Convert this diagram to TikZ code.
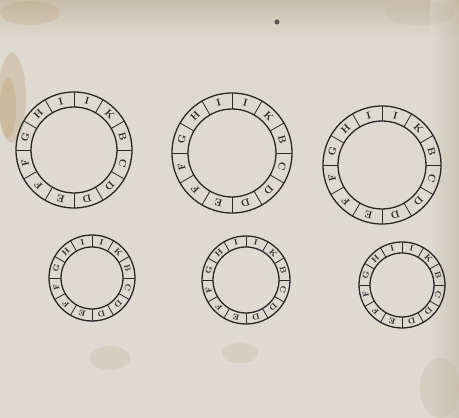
\documentclass[tikz,border=0pt]{standalone}
\usetikzlibrary{calc}
\definecolor{paper}{RGB}{222,218,209}
\definecolor{ink}{RGB}{40,40,40}
\definecolor{stain}{RGB}{185,150,105}
\definecolor{grime}{RGB}{195,183,160}
\tikzset{
  ringline/.style={draw=ink, line width=1.3pt},
  divline/.style={draw=ink, line width=0.8pt},
  letter/.style={inner sep=0pt, text=ink},
}
% #1 name, #2 cx, #3 cy, #4 outer R, #5 inner r, #6 font size
\newcommand\cipherring[6]{%
  \draw[ringline] (#2,#3) circle[radius=#4];
  \draw[ringline] (#2,#3) circle[radius=#5];
  \foreach \L [count=\i] in {G,H,I,I,K,B,C,D,D,E,F,F}{
    \pgfmathsetmacro\a{165-30*(\i-1)}
    \pgfmathsetmacro\b{\a-15}
    \pgfmathsetmacro\m{(#4+#5)/2}
    \draw[divline] ($(#2,#3)+(\b:#5)$) -- ($(#2,#3)+(\b:#4)$);
    \node[letter, font=\fontsize{#6}{#6}\selectfont\rmfamily\bfseries, rotate=\a-90] (#1-\i) at ($(#2,#3)+(\a:\m)$) {\L};
  }
}
\begin{document}
\begin{tikzpicture}[x=1pt,y=1pt]
\useasboundingbox (0,0) rectangle (459,418);
\fill[paper] (0,0) rectangle (459,418);
% aged edges and stains
\shade[top color=grime, bottom color=paper, opacity=0.8] (0,380) rectangle (459,418);
\shade[left color=paper, right color=grime, opacity=0.6] (430,0) rectangle (459,418);
\fill[stain, opacity=0.3] (12,320) ellipse[x radius=14, y radius=45];
\fill[stain, opacity=0.25] (8,310) ellipse[x radius=8, y radius=30];
\fill[stain, opacity=0.2] (30,405) ellipse[x radius=30, y radius=12];
\fill[grime, opacity=0.3] (420,405) ellipse[x radius=35, y radius=12];
\fill[grime, opacity=0.3] (110,60) ellipse[x radius=20, y radius=12];
\fill[grime, opacity=0.3] (240,65) ellipse[x radius=18, y radius=10];
\fill[grime, opacity=0.3] (440,30) ellipse[x radius=20, y radius=30];
\fill[ink, opacity=0.7] (277,396) circle[radius=2.5];
% rings (y = 418 - image y)
\cipherring{r1}{74}{268}{58}{43}{10}
\cipherring{r2}{232}{265}{60}{44}{10}
\cipherring{r3}{382}{253}{59}{44}{10}
\cipherring{r4}{92}{140}{43}{31}{8}
\cipherring{r5}{246}{138}{44}{33}{8}
\cipherring{r6}{402}{133}{43}{32}{8}
\end{tikzpicture}
\end{document}
